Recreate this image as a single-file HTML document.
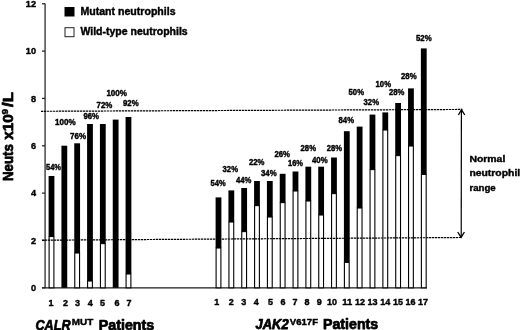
<!DOCTYPE html>
<html><head><meta charset="utf-8"><title>Neutrophil chart</title>
<style>
html,body{margin:0;padding:0;background:#fff;}
body{width:520px;height:330px;overflow:hidden;}
svg{display:block;}
text{font-family:"Liberation Sans",sans-serif;font-weight:bold;fill:#000;stroke:#000;stroke-linejoin:round;}
svg{stroke-width:0.4px;}
</style></head><body>
<svg width="520" height="330" viewBox="0 0 520 330">
<rect width="520" height="330" fill="#fff"/>
<!-- axes -->
<line x1="45.1" y1="3.4" x2="45.1" y2="288.3" stroke="#3a3a3a" stroke-width="1.4"/>
<line x1="42" y1="287.8" x2="427" y2="287.8" stroke="#1a1a1a" stroke-width="1.2"/>
<!-- legend -->
<rect x="64.5" y="7" width="10" height="9.5" fill="#000"/>
<rect x="65" y="27.7" width="9" height="9" fill="#fff" stroke="#222" stroke-width="1"/>
<text x="80.4" y="15.1" textLength="95.2" lengthAdjust="spacingAndGlyphs" font-size="10.2">Mutant neutrophils</text>
<text x="80.4" y="35.3" textLength="107.3" lengthAdjust="spacingAndGlyphs" font-size="10.2">Wild-type neutrophils</text>
<!-- range label -->
<text x="469.4" y="161.9" textLength="35.9" lengthAdjust="spacingAndGlyphs" font-size="9.5">Normal</text>
<text x="469.4" y="176.3" textLength="50.8" lengthAdjust="spacingAndGlyphs" font-size="9.7">neutrophil</text>
<text x="469.4" y="190.6" textLength="26.3" lengthAdjust="spacingAndGlyphs" font-size="9.7">range</text>
<!-- y axis title -->
<g transform="translate(12.9,0) rotate(-90)" font-size="14.4" stroke-width="0.75">
<text x="-181" y="0" textLength="36.8" lengthAdjust="spacingAndGlyphs">Neuts</text>
<text x="-139.8" y="0" textLength="25.6" lengthAdjust="spacingAndGlyphs">x10</text>
<text x="-114.4" y="-4.6" font-size="9.4" stroke-width="0.45" textLength="5.6" lengthAdjust="spacingAndGlyphs">9</text>
<text x="-106.9" y="0" textLength="14.8" lengthAdjust="spacingAndGlyphs">/L</text>
</g>
<!-- group titles -->
<g stroke-width="0.75">
<text x="35.5" y="329.6" font-size="15" textLength="35" lengthAdjust="spacingAndGlyphs" font-style="italic">CALR</text>
<text x="71.8" y="324.7" font-size="9.6" stroke-width="0.45" textLength="21.4" lengthAdjust="spacingAndGlyphs">MUT</text>
<text x="98.8" y="329.6" font-size="14.5" textLength="55.4" lengthAdjust="spacingAndGlyphs">Patients</text>
<text x="255.5" y="329.3" font-size="14.6" textLength="33.2" lengthAdjust="spacingAndGlyphs" font-style="italic">JAK2</text>
<text x="289.8" y="325" font-size="9.6" stroke-width="0.45" textLength="28.2" lengthAdjust="spacingAndGlyphs">V617F</text>
<text x="323" y="329.3" font-size="14.6" textLength="55.2" lengthAdjust="spacingAndGlyphs">Patients</text>
</g>
<!-- bars, labels -->
<rect x="48.60" y="176.00" width="5.8" height="60.50" fill="#000"/>
<rect x="49.10" y="236.50" width="4.8" height="51.30" fill="#fff" stroke="#000" stroke-width="1.1"/>
<rect x="61.43" y="145.70" width="5.8" height="142.10" fill="#000"/>
<rect x="74.26" y="143.30" width="5.8" height="109.70" fill="#000"/>
<rect x="74.76" y="253.00" width="4.8" height="34.80" fill="#fff" stroke="#000" stroke-width="1.1"/>
<rect x="87.09" y="124.00" width="5.8" height="157.00" fill="#000"/>
<rect x="87.59" y="281.00" width="4.8" height="6.80" fill="#fff" stroke="#000" stroke-width="1.1"/>
<rect x="99.92" y="124.00" width="5.8" height="119.60" fill="#000"/>
<rect x="100.42" y="243.60" width="4.8" height="44.20" fill="#fff" stroke="#000" stroke-width="1.1"/>
<rect x="112.75" y="119.60" width="5.8" height="168.20" fill="#000"/>
<rect x="125.58" y="117.00" width="5.8" height="157.00" fill="#000"/>
<rect x="126.08" y="274.00" width="4.8" height="13.80" fill="#fff" stroke="#000" stroke-width="1.1"/>
<rect x="215.60" y="197.40" width="5.8" height="50.60" fill="#000"/>
<rect x="216.10" y="248.00" width="4.8" height="39.80" fill="#fff" stroke="#000" stroke-width="1.1"/>
<rect x="228.43" y="190.40" width="5.8" height="31.60" fill="#000"/>
<rect x="228.93" y="222.00" width="4.8" height="65.80" fill="#fff" stroke="#000" stroke-width="1.1"/>
<rect x="241.26" y="188.00" width="5.8" height="43.60" fill="#000"/>
<rect x="241.76" y="231.60" width="4.8" height="56.20" fill="#fff" stroke="#000" stroke-width="1.1"/>
<rect x="254.09" y="181.00" width="5.8" height="24.60" fill="#000"/>
<rect x="254.59" y="205.60" width="4.8" height="82.20" fill="#fff" stroke="#000" stroke-width="1.1"/>
<rect x="266.92" y="181.00" width="5.8" height="36.00" fill="#000"/>
<rect x="267.42" y="217.00" width="4.8" height="70.80" fill="#fff" stroke="#000" stroke-width="1.1"/>
<rect x="279.75" y="173.80" width="5.8" height="28.80" fill="#000"/>
<rect x="280.25" y="202.60" width="4.8" height="85.20" fill="#fff" stroke="#000" stroke-width="1.1"/>
<rect x="292.58" y="171.50" width="5.8" height="19.50" fill="#000"/>
<rect x="293.08" y="191.00" width="4.8" height="96.80" fill="#fff" stroke="#000" stroke-width="1.1"/>
<rect x="305.41" y="166.70" width="5.8" height="34.30" fill="#000"/>
<rect x="305.91" y="201.00" width="4.8" height="86.80" fill="#fff" stroke="#000" stroke-width="1.1"/>
<rect x="318.24" y="166.70" width="5.8" height="48.30" fill="#000"/>
<rect x="318.74" y="215.00" width="4.8" height="72.80" fill="#fff" stroke="#000" stroke-width="1.1"/>
<rect x="331.07" y="157.50" width="5.8" height="36.10" fill="#000"/>
<rect x="331.57" y="193.60" width="4.8" height="94.20" fill="#fff" stroke="#000" stroke-width="1.1"/>
<rect x="343.90" y="131.20" width="5.8" height="131.20" fill="#000"/>
<rect x="344.40" y="262.40" width="4.8" height="25.40" fill="#fff" stroke="#000" stroke-width="1.1"/>
<rect x="356.73" y="126.60" width="5.8" height="81.40" fill="#000"/>
<rect x="357.23" y="208.00" width="4.8" height="79.80" fill="#fff" stroke="#000" stroke-width="1.1"/>
<rect x="369.56" y="114.60" width="5.8" height="55.00" fill="#000"/>
<rect x="370.06" y="169.60" width="4.8" height="118.20" fill="#fff" stroke="#000" stroke-width="1.1"/>
<rect x="382.39" y="112.40" width="5.8" height="17.60" fill="#000"/>
<rect x="382.89" y="130.00" width="4.8" height="157.80" fill="#fff" stroke="#000" stroke-width="1.1"/>
<rect x="395.22" y="103.00" width="5.8" height="52.60" fill="#000"/>
<rect x="395.72" y="155.60" width="4.8" height="132.20" fill="#fff" stroke="#000" stroke-width="1.1"/>
<rect x="408.05" y="88.40" width="5.8" height="57.60" fill="#000"/>
<rect x="408.55" y="146.00" width="4.8" height="141.80" fill="#fff" stroke="#000" stroke-width="1.1"/>
<rect x="420.88" y="48.40" width="5.8" height="126.00" fill="#000"/>
<rect x="421.38" y="174.40" width="4.8" height="113.40" fill="#fff" stroke="#000" stroke-width="1.1"/>
<text x="46" y="169.6" textLength="15.0" lengthAdjust="spacingAndGlyphs" font-size="8.3" stroke-width="0.4">54%</text>
<text x="55" y="125.4" textLength="20.6" lengthAdjust="spacingAndGlyphs" font-size="8.3" stroke-width="0.4">100%</text>
<text x="70" y="138.6" textLength="16.0" lengthAdjust="spacingAndGlyphs" font-size="8.3" stroke-width="0.4">76%</text>
<text x="83.4" y="118.6" textLength="15.6" lengthAdjust="spacingAndGlyphs" font-size="8.3" stroke-width="0.4">96%</text>
<text x="96.6" y="108.0" textLength="15.8" lengthAdjust="spacingAndGlyphs" font-size="8.3" stroke-width="0.4">72%</text>
<text x="106.4" y="95.6" textLength="20.6" lengthAdjust="spacingAndGlyphs" font-size="8.3" stroke-width="0.4">100%</text>
<text x="123" y="106.0" textLength="15.6" lengthAdjust="spacingAndGlyphs" font-size="8.3" stroke-width="0.4">92%</text>
<text x="210.6" y="185.8" textLength="15.0" lengthAdjust="spacingAndGlyphs" font-size="8.3" stroke-width="0.4">54%</text>
<text x="222.6" y="172.0" textLength="15.4" lengthAdjust="spacingAndGlyphs" font-size="8.3" stroke-width="0.4">32%</text>
<text x="236" y="182.6" textLength="15.4" lengthAdjust="spacingAndGlyphs" font-size="8.3" stroke-width="0.4">44%</text>
<text x="249" y="165.0" textLength="15.5" lengthAdjust="spacingAndGlyphs" font-size="8.3" stroke-width="0.4">22%</text>
<text x="261" y="175.6" textLength="15.6" lengthAdjust="spacingAndGlyphs" font-size="8.3" stroke-width="0.4">34%</text>
<text x="274.4" y="156.6" textLength="15.6" lengthAdjust="spacingAndGlyphs" font-size="8.3" stroke-width="0.4">26%</text>
<text x="288" y="165.6" textLength="15.0" lengthAdjust="spacingAndGlyphs" font-size="8.3" stroke-width="0.4">16%</text>
<text x="300.6" y="151.1" textLength="15.4" lengthAdjust="spacingAndGlyphs" font-size="8.3" stroke-width="0.4">28%</text>
<text x="312" y="162.6" textLength="15.6" lengthAdjust="spacingAndGlyphs" font-size="8.3" stroke-width="0.4">40%</text>
<text x="326.8" y="150.6" textLength="15.2" lengthAdjust="spacingAndGlyphs" font-size="8.3" stroke-width="0.4">28%</text>
<text x="338.6" y="123.2" textLength="15.4" lengthAdjust="spacingAndGlyphs" font-size="8.3" stroke-width="0.4">84%</text>
<text x="348.6" y="94.8" textLength="15.4" lengthAdjust="spacingAndGlyphs" font-size="8.3" stroke-width="0.4">50%</text>
<text x="363.6" y="105.2" textLength="15.4" lengthAdjust="spacingAndGlyphs" font-size="8.3" stroke-width="0.4">32%</text>
<text x="375.6" y="87.0" textLength="15.4" lengthAdjust="spacingAndGlyphs" font-size="8.3" stroke-width="0.4">10%</text>
<text x="389" y="95.2" textLength="15.4" lengthAdjust="spacingAndGlyphs" font-size="8.3" stroke-width="0.4">28%</text>
<text x="401" y="79.2" textLength="15.6" lengthAdjust="spacingAndGlyphs" font-size="8.3" stroke-width="0.4">28%</text>
<text x="416" y="40.8" textLength="15.6" lengthAdjust="spacingAndGlyphs" font-size="8.3" stroke-width="0.4">52%</text>
<line x1="42" x2="45" y1="287.80" y2="287.80" stroke="#222" stroke-width="1.25"/>
<text x="30.9" y="291.10" textLength="5.1" lengthAdjust="spacingAndGlyphs" font-size="9.5">0</text>
<line x1="42" x2="45" y1="240.46" y2="240.46" stroke="#222" stroke-width="1.25"/>
<text x="30.9" y="243.76" textLength="5.1" lengthAdjust="spacingAndGlyphs" font-size="9.5">2</text>
<line x1="42" x2="45" y1="193.12" y2="193.12" stroke="#222" stroke-width="1.25"/>
<text x="30.9" y="196.42" textLength="5.1" lengthAdjust="spacingAndGlyphs" font-size="9.5">4</text>
<line x1="42" x2="45" y1="145.78" y2="145.78" stroke="#222" stroke-width="1.25"/>
<text x="30.9" y="149.08" textLength="5.1" lengthAdjust="spacingAndGlyphs" font-size="9.5">6</text>
<line x1="42" x2="45" y1="98.44" y2="98.44" stroke="#222" stroke-width="1.25"/>
<text x="30.9" y="101.74" textLength="5.1" lengthAdjust="spacingAndGlyphs" font-size="9.5">8</text>
<line x1="42" x2="45" y1="51.10" y2="51.10" stroke="#222" stroke-width="1.25"/>
<text x="25.8" y="54.40" textLength="10.2" lengthAdjust="spacingAndGlyphs" font-size="9.5">10</text>
<line x1="42" x2="45" y1="3.76" y2="3.76" stroke="#222" stroke-width="1.25"/>
<text x="25.8" y="6.76" textLength="10.2" lengthAdjust="spacingAndGlyphs" font-size="9.5">12</text>
<text x="48.50" y="305.7" textLength="5.0" lengthAdjust="spacingAndGlyphs" font-size="9">1</text>
<text x="63.00" y="305.7" textLength="5.0" lengthAdjust="spacingAndGlyphs" font-size="9">2</text>
<text x="75.00" y="305.7" textLength="5.0" lengthAdjust="spacingAndGlyphs" font-size="9">3</text>
<text x="87.75" y="305.7" textLength="5.0" lengthAdjust="spacingAndGlyphs" font-size="9">4</text>
<text x="100.00" y="305.7" textLength="5.0" lengthAdjust="spacingAndGlyphs" font-size="9">5</text>
<text x="114.50" y="305.7" textLength="5.0" lengthAdjust="spacingAndGlyphs" font-size="9">6</text>
<text x="126.50" y="305.7" textLength="5.0" lengthAdjust="spacingAndGlyphs" font-size="9">7</text>
<text x="214.25" y="305.0" textLength="5.0" lengthAdjust="spacingAndGlyphs" font-size="9">1</text>
<text x="228.75" y="305.0" textLength="5.0" lengthAdjust="spacingAndGlyphs" font-size="9">2</text>
<text x="241.25" y="305.0" textLength="5.0" lengthAdjust="spacingAndGlyphs" font-size="9">3</text>
<text x="253.75" y="305.0" textLength="5.0" lengthAdjust="spacingAndGlyphs" font-size="9">4</text>
<text x="268.00" y="305.0" textLength="5.0" lengthAdjust="spacingAndGlyphs" font-size="9">5</text>
<text x="280.50" y="305.0" textLength="5.0" lengthAdjust="spacingAndGlyphs" font-size="9">6</text>
<text x="292.50" y="305.0" textLength="5.0" lengthAdjust="spacingAndGlyphs" font-size="9">7</text>
<text x="304.50" y="305.0" textLength="5.0" lengthAdjust="spacingAndGlyphs" font-size="9">8</text>
<text x="316.75" y="305.0" textLength="5.0" lengthAdjust="spacingAndGlyphs" font-size="9">9</text>
<text x="327.00" y="305.0" textLength="10.0" lengthAdjust="spacingAndGlyphs" font-size="9">10</text>
<text x="342.20" y="305.0" textLength="10.0" lengthAdjust="spacingAndGlyphs" font-size="9">11</text>
<text x="355.00" y="305.0" textLength="10.0" lengthAdjust="spacingAndGlyphs" font-size="9">12</text>
<text x="367.50" y="305.0" textLength="10.0" lengthAdjust="spacingAndGlyphs" font-size="9">13</text>
<text x="380.20" y="305.0" textLength="10.0" lengthAdjust="spacingAndGlyphs" font-size="9">14</text>
<text x="393.00" y="305.0" textLength="10.0" lengthAdjust="spacingAndGlyphs" font-size="9">15</text>
<text x="405.60" y="305.0" textLength="10.0" lengthAdjust="spacingAndGlyphs" font-size="9">16</text>
<text x="418.10" y="305.0" textLength="10.0" lengthAdjust="spacingAndGlyphs" font-size="9">17</text>
<!-- reference lines -->
<line x1="41" y1="111.3" x2="462.4" y2="109.45" stroke="#000" stroke-width="1.2" stroke-dasharray="2.3 0.7"/>
<line x1="42" y1="240.2" x2="461.3" y2="237.5" stroke="#000" stroke-width="1.2" stroke-dasharray="2.3 0.7"/>
<!-- arrow -->
<line x1="461.4" y1="110" x2="461.2" y2="237" stroke="#000" stroke-width="1.2"/>
<polyline points="458.4,115 461.5,109.8 464.8,115" fill="none" stroke="#000" stroke-width="1.3"/>
<polyline points="457.7,232 461.1,237.4 464.4,232" fill="none" stroke="#000" stroke-width="1.3"/>
</svg>
</body></html>
